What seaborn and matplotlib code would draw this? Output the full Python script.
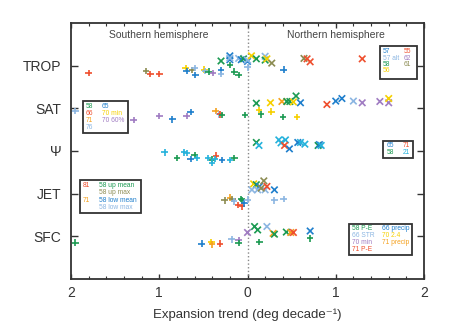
import matplotlib
matplotlib.use("Agg")
import matplotlib.pyplot as plt
import seaborn as sns
import pandas as pd
import numpy as np
from matplotlib.patches import Rectangle
from matplotlib.ticker import MultipleLocator, FuncFormatter

# ---------------- data ----------------
rows = ["TROP", "SAT", "\u03a8", "JET", "SFC"]
row_pos = [5, 4, 3, 2, 1]

palette = {
    "blue": "#1f7fcc", "lblue": "#8cb6e2", "green": "#1b9a52", "yellow": "#f6d000",
    "red": "#ef4f2e", "purple": "#a07cc2", "olive": "#8c8c52", "orange": "#f5a11e",
    "cyan": "#25b2dc",
}

# TROP
trop_x = [-1.80, -1.15, -1.10, -1.00, -0.70, -0.69, -0.63, -0.60, -0.59, -0.49, -0.48, -0.44, -0.39,
          -0.30, -0.30, -0.20, -0.15, -0.10, 0.00, 0.41,
          -0.30, -0.20, -0.20, -0.20, -0.10, -0.07, -0.045, 0.00, 0.00, 0.045, 0.10, 0.20, 0.20, 0.22,
          0.275, 0.64, 0.675, 0.71, 1.30]
trop_dy = [-0.17, -0.12, -0.19, -0.20, -0.06, -0.13, -0.10, -0.06, -0.22, -0.09, -0.12, -0.14, -0.17,
           -0.10, -0.20, 0.02, -0.14, -0.22, -0.04, -0.09,
           0.11, 0.23, 0.14, 0.18, 0.17, 0.14, 0.16, 0.10, 0.13, 0.23, 0.16, 0.22, 0.13, 0.16,
           0.06, 0.17, 0.16, 0.09, 0.16]
trop_c = ["red", "olive", "red", "red", "yellow", "blue", "olive", "lblue", "blue", "yellow", "lblue", "green", "purple",
          "blue", "lblue", "green", "green", "green", "lblue", "blue",
          "green", "blue", "blue", "lblue", "lblue", "blue", "green", "blue", "lblue", "yellow", "green", "lblue", "green", "yellow",
          "olive", "olive", "red", "red", "red"]
trop_m = ["+"] * 20 + ["x"] * 19

# SAT
sat_x = [-1.95, -1.29, -1.00, -0.85, -0.69, -0.645, -0.36, -0.32, -0.31, -0.29, -0.03, 0.13, 0.155, 0.27, 0.40, 0.56,
         0.10, 0.26, 0.39, 0.445, 0.48, 0.52, 0.55, 0.60, 0.90, 1.00, 1.07, 1.20, 1.30, 1.50, 1.60, 1.60]
sat_dy = [-0.06, -0.27, -0.18, -0.26, -0.18, -0.09, -0.06, -0.14, -0.14, -0.16, -0.16, -0.04, -0.14, -0.08, -0.20, -0.20,
          0.12, 0.13, 0.16, 0.16, 0.16, 0.15, 0.29, 0.13, 0.09, 0.17, 0.23, 0.17, 0.13, 0.16, 0.13, 0.23]
sat_c = ["lblue", "purple", "purple", "blue", "purple", "blue", "orange", "lblue", "red", "green", "green", "yellow", "green",
         "yellow", "green", "yellow",
         "green", "yellow", "orange", "green", "green", "yellow", "green", "blue", "red", "blue", "blue", "lblue", "purple",
         "purple", "purple", "yellow"]
sat_m = ["+"] * 16 + ["x"] * 16

# PSI
psi_x = [-0.94, -0.80, -0.72, -0.69, -0.645, -0.60, -0.57, -0.45, -0.355, -0.40, -0.40, -0.37, -0.29, -0.20, -0.15,
         0.10, 0.13, 0.355, 0.38, 0.43, 0.42, 0.475, 0.57, 0.60, 0.65, 0.80, 0.815, 0.835]
psi_dy = [-0.03, -0.16, -0.03, -0.05, -0.19, -0.09, -0.16, -0.16, -0.11, -0.20, -0.27, -0.19, -0.21, -0.21, -0.16,
          0.20, 0.13, 0.26, 0.19, 0.26, 0.13, 0.05, 0.20, 0.20, 0.16, 0.13, 0.15, 0.13]
psi_c = ["cyan", "green", "cyan", "cyan", "blue", "green", "cyan", "cyan", "red", "green", "cyan", "cyan", "blue", "cyan", "green",
         "green", "cyan", "cyan", "cyan", "cyan", "red", "blue", "blue", "cyan", "cyan", "green", "blue", "cyan"]
psi_m = ["+"] * 15 + ["x"] * 13

# JET
jet_x = [-0.26, -0.20, -0.17, -0.155, -0.07, -0.065, -0.11, -0.06, -0.035, 0.00, 0.305, 0.41,
         0.07, 0.10, 0.135, 0.05, 0.115, 0.20, 0.155, 0.185, 0.305, 0.22]
jet_dy = [-0.16, -0.09, -0.12, -0.18, -0.12, -0.16, -0.26, -0.30, -0.23, -0.14, -0.16, -0.12,
          0.23, 0.21, 0.17, 0.09, 0.09, 0.09, 0.13, 0.30, 0.09, 0.17]
jet_c = ["olive", "orange", "olive", "lblue", "green", "green", "red", "red", "blue", "lblue", "lblue", "lblue",
         "yellow", "green", "blue", "lblue", "lblue", "lblue", "olive", "olive", "blue", "red"]
jet_m = ["+"] * 12 + ["x"] * 10

# SFC
sfc_x = [-1.95, -0.52, -0.41, -0.40, -0.31, -0.18, -0.10, -0.10, 0.135, 0.71,
         0.00, 0.08, 0.115, 0.22, 0.29, 0.305, 0.44, 0.49, 0.52, 0.71]
sfc_dy = [-0.15, -0.17, -0.13, -0.19, -0.17, -0.07, -0.09, -0.16, -0.13, -0.05,
          0.09, 0.23, 0.15, 0.23, 0.07, 0.05, 0.10, 0.09, 0.09, 0.125]
sfc_c = ["green", "blue", "yellow", "orange", "red", "lblue", "purple", "green", "green", "green",
         "purple", "green", "green", "lblue", "orange", "green", "green", "orange", "red", "blue"]
sfc_m = ["+"] * 10 + ["x"] * 10

# legend tables: (label, colour, column, row)
leg_trop = [("57", "blue", 0, 0), ("55", "red", 1, 0), ("57 alt", "lblue", 0, 1), ("62", "purple", 1, 1),
            ("58", "green", 0, 2), ("61", "olive", 1, 2), ("56", "yellow", 0, 3)]
leg_sat = [("58", "green", 0, 0), ("65", "blue", 1, 0), ("66", "red", 0, 1), ("70 min", "yellow", 1, 1),
           ("71", "orange", 0, 2), ("70 60%", "purple", 1, 2), ("76", "lblue", 0, 3)]
leg_psi = [("65", "blue", 0, 0), ("71", "red", 1, 0), ("58", "green", 0, 1), ("21", "cyan", 1, 1)]
leg_jet = [("81", "red", 0, 0), ("58 up mean", "green", 1, 0), ("58 up max", "olive", 1, 1),
           ("71", "orange", 0, 2), ("58 low mean", "blue", 1, 2), ("58 low max", "lblue", 1, 3)]
leg_sfc = [("58 P-E", "green", 0, 0), ("66 precip", "blue", 1, 0), ("66 STR", "lblue", 0, 1), ("70 2.4", "yellow", 1, 1),
           ("70 min", "purple", 0, 2), ("71 precip", "orange", 1, 2), ("71 P-E", "red", 0, 3)]

# ---------------- build frame ----------------
frames = []
for pos, xs, dys, cs, ms in [(5, trop_x, trop_dy, trop_c, trop_m), (4, sat_x, sat_dy, sat_c, sat_m),
                             (3, psi_x, psi_dy, psi_c, psi_m), (2, jet_x, jet_dy, jet_c, jet_m),
                             (1, sfc_x, sfc_dy, sfc_c, sfc_m)]:
    frames.append(pd.DataFrame({"x": xs, "y": [pos + d for d in dys], "c": cs, "m": ms}))
df = pd.concat(frames, ignore_index=True)

# ---------------- plot ----------------
sns.set_style("ticks")
plt.rcParams["font.family"] = ["Liberation Sans", "DejaVu Sans"]

W, H = 466, 328
fig = plt.figure(figsize=(W / 100, H / 100), dpi=100)
L, R, T, B = 71, 424, 23, 279
ax = fig.add_axes([L / W, 1 - B / H, (R - L) / W, (B - T) / H])

ax.axvline(0, color="#888888", lw=1.0, ls=":", zorder=1)

sns.scatterplot(data=df, x="x", y="y", hue="c", style="m", palette=palette,
                markers={"+": "+", "x": "x"}, s=22, linewidth=1.2, legend=False, ax=ax, zorder=3)

ax.set_xlim(-2, 2)
ax.set_ylim(0, 6)
ax.xaxis.set_major_locator(MultipleLocator(1))
ax.xaxis.set_minor_locator(MultipleLocator(0.2))
ax.xaxis.set_major_formatter(FuncFormatter(lambda v, p: f"{abs(v):.0f}"))
ax.set_yticks(row_pos)
ax.set_yticklabels(rows)
ax.tick_params(axis="x", which="major", direction="in", top=True, length=3.5, width=1, pad=5,
               labelsize=10, colors="#333333")
ax.tick_params(axis="x", which="minor", direction="in", top=True, length=2, width=0.8, colors="#333333")
ax.tick_params(axis="y", which="major", direction="in", right=True, length=5, width=1, pad=7,
               labelsize=10, colors="#333333")
for tl in ax.get_xticklabels() + ax.get_yticklabels():
    tl.set_color("#333333")
for sp in ax.spines.values():
    sp.set_linewidth(1.3)
    sp.set_color("#333333")
ax.set_xlabel("Expansion trend (deg decade\u207b\u00b9)", fontsize=9.5, color="#333333", labelpad=6)
ax.set_ylabel("")

ax.text(0.249, 0.953, "Southern hemisphere", transform=ax.transAxes, ha="center", va="center",
        fontsize=7.5, color="#444444")
ax.text(0.751, 0.953, "Northern hemisphere", transform=ax.transAxes, ha="center", va="center",
        fontsize=7.5, color="#444444")


def fx(px):
    return (px - L) / (R - L)


def fy(py):
    return (B - py) / (B - T)


def legend_box(entries, box, cols, row0, dyrow):
    x0, y0, x1, y1 = box
    ax.add_patch(Rectangle((fx(x0), fy(y1)), fx(x1) - fx(x0), fy(y0) - fy(y1), transform=ax.transAxes,
                           facecolor="white", edgecolor="#333333", lw=1.3, zorder=5))
    for lab, ck, ci, ri in entries:
        ax.text(fx(cols[ci]), fy(row0 + ri * dyrow), lab, transform=ax.transAxes, ha="left", va="center",
                fontsize=4.8, color=palette[ck], zorder=6)


legend_box(leg_trop, (380, 46, 417, 79), (383, 404), 51.7, 6.4)
legend_box(leg_sat, (83, 101, 128, 133), (86, 101.7), 106, 7.3)
legend_box(leg_psi, (383, 141, 413, 158), (386.5, 403), 145.7, 7.0)
legend_box(leg_jet, (80, 180, 141, 213), (82.7, 99.3), 185.7, 7.3)
legend_box(leg_sfc, (349, 224, 412, 255), (351.7, 381.7), 229, 6.8)

fig.savefig("out.png", dpi=100)
